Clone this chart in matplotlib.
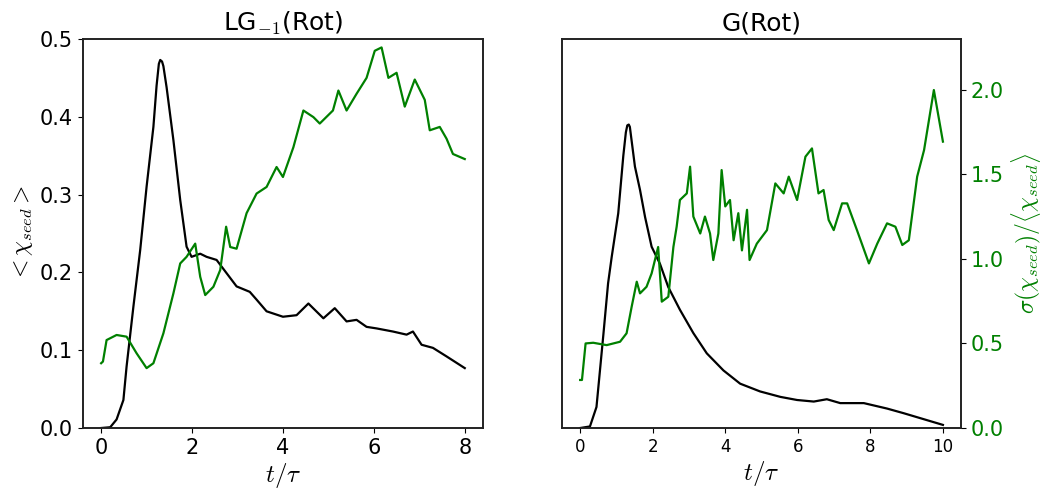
import matplotlib
matplotlib.use("Agg")
import matplotlib.pyplot as plt

plt.rcParams['mathtext.fontset'] = 'cm'
plt.rcParams['font.family'] = ['DejaVu Sans']

# ---- Left panel: LG_{-1}(Rot) ----
lg_t_mean = [0, 0.2, 0.34, 0.49, 0.56, 0.71, 0.86, 1.0, 1.15, 1.22, 1.27, 1.3, 1.34, 1.37,
             1.44, 1.59, 1.74, 1.88, 1.99, 2.18, 2.32, 2.54, 2.76, 2.98, 3.27, 3.42, 3.64,
             4.0, 4.3, 4.56, 4.89, 5.14, 5.4, 5.62, 5.84, 6.06, 6.42, 6.72, 6.86, 7.05,
             7.3, 7.6, 8.0]
lg_mean = [0, 0.001, 0.011, 0.036, 0.079, 0.156, 0.229, 0.31, 0.387, 0.44, 0.468, 0.473,
           0.471, 0.465, 0.438, 0.37, 0.293, 0.233, 0.22, 0.224, 0.22, 0.216, 0.199, 0.182,
           0.175, 0.165, 0.15, 0.143, 0.145, 0.16, 0.141, 0.154, 0.137, 0.139, 0.130,
           0.128, 0.124, 0.12, 0.124, 0.107, 0.103, 0.092, 0.077]

lg_t_ratio = [0, 0.04, 0.12, 0.34, 0.56, 0.78, 1.0, 1.15, 1.37, 1.59, 1.74, 1.88, 2.07, 2.18,
              2.29, 2.47, 2.62, 2.75, 2.84, 2.98, 3.2, 3.42, 3.64, 3.86, 4.0, 4.23, 4.45,
              4.67, 4.81, 5.1, 5.22, 5.4, 5.62, 5.84, 6.02, 6.17, 6.32, 6.5, 6.68, 6.9,
              7.12, 7.23, 7.45, 7.6, 7.74, 8.0]
lg_ratio = [0.383, 0.393, 0.52, 0.55, 0.54, 0.442, 0.354, 0.383, 0.56, 0.796, 0.973, 1.012,
            1.09, 0.894, 0.786, 0.835, 0.934, 1.19, 1.07, 1.06, 1.27, 1.386, 1.425, 1.543,
            1.484, 1.66, 1.877, 1.838, 1.8, 1.877, 1.995, 1.877, 1.976, 2.07, 2.23, 2.25,
            2.07, 2.1, 1.9, 2.06, 1.94, 1.76, 1.78, 1.71, 1.62, 1.59]

# ---- Right panel: G(Rot) ----
g_t_mean = [0, 0.27, 0.45, 0.64, 0.77, 0.87, 1.05, 1.19, 1.26, 1.3, 1.34, 1.37, 1.51, 1.65,
            1.79, 1.97, 2.2, 2.43, 2.75, 3.12, 3.49, 3.95, 4.41, 4.96, 5.52, 5.98, 6.44,
            6.8, 7.17, 7.82, 8.46, 8.92, 10.0]
g_mean = [0, 0.002, 0.027, 0.12, 0.186, 0.22, 0.276, 0.35, 0.38, 0.389, 0.39, 0.387, 0.336,
          0.306, 0.271, 0.233, 0.211, 0.181, 0.152, 0.122, 0.096, 0.074, 0.057, 0.047,
          0.04, 0.036, 0.034, 0.037, 0.032, 0.032, 0.025, 0.019, 0.004]

g_t_ratio = [0, 0.05, 0.15, 0.36, 0.73, 1.1, 1.28, 1.42, 1.56, 1.65, 1.83, 1.97, 2.15, 2.25,
             2.43, 2.57, 2.66, 2.75, 2.94, 3.03, 3.12, 3.31, 3.44, 3.58, 3.67, 3.81, 3.9,
             4.0, 4.13, 4.23, 4.36, 4.46, 4.6, 4.67, 4.87, 5.15, 5.38, 5.61, 5.75, 5.98,
             6.21, 6.39, 6.57, 6.71, 6.85, 6.99, 7.22, 7.36, 7.63, 7.96, 8.19, 8.46, 8.69,
             8.88, 9.06, 9.29, 9.48, 9.75, 10.0]
g_ratio = [0.284, 0.284, 0.5, 0.504, 0.49, 0.51, 0.56, 0.717, 0.865, 0.796, 0.835, 0.914,
           1.07, 0.747, 0.776, 1.07, 1.19, 1.348, 1.387, 1.545, 1.25, 1.15, 1.25, 1.15,
           0.993, 1.15, 1.525, 1.31, 1.348, 1.11, 1.27, 1.05, 1.29, 0.993, 1.09, 1.17,
           1.446, 1.387, 1.486, 1.348, 1.604, 1.653, 1.387, 1.407, 1.23, 1.17, 1.328,
           1.328, 1.17, 0.973, 1.09, 1.21, 1.19, 1.082, 1.11, 1.486, 1.643, 1.998, 1.693]

titles = ["LG$_{-1}$(Rot)", "G(Rot)"]

GREEN = "green"
fig = plt.figure(figsize=(10.46, 4.9), dpi=100)
ax1 = fig.add_axes([0.0793, 0.1265, 0.3824, 0.794])
ax2 = fig.add_axes([0.5373, 0.1265, 0.3815, 0.794], sharey=ax1)

# left
ax1.plot(lg_t_mean, lg_mean, color='black', lw=1.6)
ax1.set_ylim(0, 0.5)
ax1.set_yticks([0, 0.1, 0.2, 0.3, 0.4, 0.5])
ax1.set_xticks([0, 2, 4, 6, 8])
ax1.set_xlabel(r"$t/\tau$", fontsize=18, labelpad=2)
ax1.set_ylabel(r"$<\chi_{seed}>$", fontsize=17)
ax1.set_title(titles[0], fontsize=18)
tw1 = ax1.twinx()
tw1.plot(lg_t_ratio, lg_ratio, color=GREEN, lw=1.6)
tw1.set_ylim(0, 2.3)
tw1.set_yticks([])
ax1.tick_params(labelsize=15)

# right
ax2.plot(g_t_mean, g_mean, color='black', lw=1.6)
ax2.set_xticks([0, 2, 4, 6, 8, 10])
ax2.set_xlabel(r"$t/\tau$", fontsize=18, labelpad=2)
ax2.set_title(titles[1], fontsize=18)
tw2 = ax2.twinx()
tw2.plot(g_t_ratio, g_ratio, color=GREEN, lw=1.6)
tw2.set_ylim(0, 2.3)
tw2.set_yticks([0, 0.5, 1.0, 1.5, 2.0])
tw2.tick_params(axis='y', labelsize=15, labelcolor=GREEN)
tw2.set_ylabel(r"$\sigma(\chi_{seed})/\langle\chi_{seed}\rangle$", fontsize=17, color=GREEN)
ax2.tick_params(axis='y', left=False, labelleft=False, right=False, labelright=False)
ax2.tick_params(axis='x', labelsize=12)

for ax in (ax1, ax2, tw1, tw2):
    for s in ax.spines.values():
        s.set_linewidth(1.2)
        s.set_color('#222222')

fig.savefig("out.png", dpi=100)
